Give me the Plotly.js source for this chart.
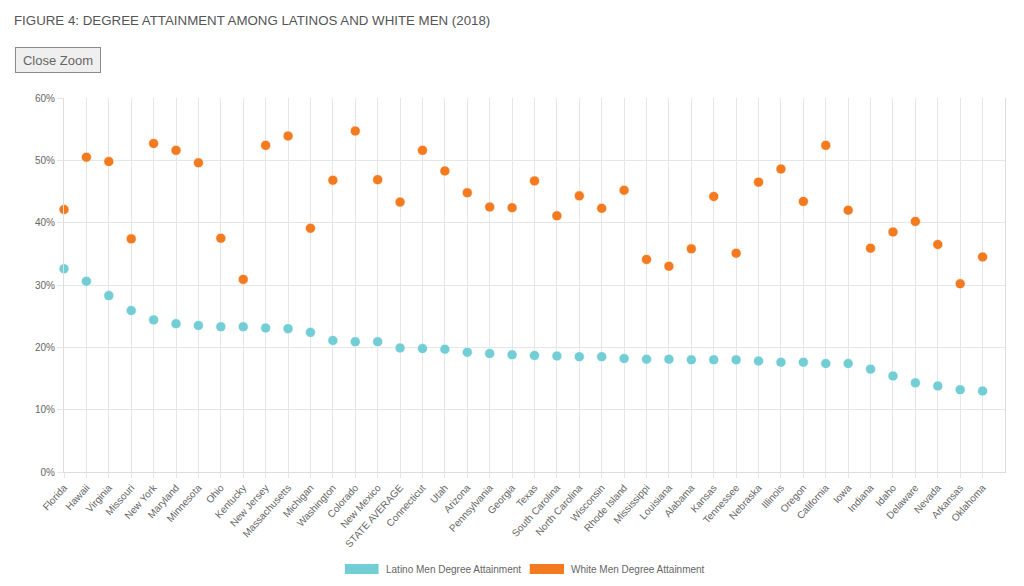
<!DOCTYPE html>
<html>
<head>
<meta charset="utf-8">
<script src="https://cdn.plot.ly/plotly-3.0.1.min.js"></script>
<style>
  html, body { margin: 0; padding: 0; background: #fff; }
  #chart { width: 1024px; height: 586px; }
</style>
</head>
<body>
<div id="chart"></div>
<script>
const states = ["Florida","Hawaii","Virginia","Missouri","New York","Maryland","Minnesota","Ohio","Kentucky","New Jersey","Massachusetts","Michigan","Washington","Colorado","New Mexico","STATE AVERAGE","Connecticut","Utah","Arizona","Pennsylvania","Georgia","Texas","South Carolina","North Carolina","Wisconsin","Rhode Island","Mississippi","Louisiana","Alabama","Kansas","Tennessee","Nebraska","Illinois","Oregon","California","Iowa","Indiana","Idaho","Delaware","Nevada","Arkansas","Oklahoma"];

const latinoMen = [32.6,30.6,28.3,25.9,24.4,23.8,23.5,23.3,23.3,23.1,23.0,22.4,21.1,20.9,20.9,19.9,19.8,19.7,19.2,19.0,18.8,18.7,18.6,18.5,18.5,18.2,18.1,18.1,18.0,18.0,18.0,17.8,17.6,17.6,17.4,17.4,16.5,15.4,14.3,13.8,13.2,13.0];

const whiteMen = [42.1,50.5,49.8,37.4,52.7,51.6,49.6,37.5,30.9,52.4,53.9,39.1,46.8,54.7,46.9,43.3,51.6,48.3,44.8,42.5,42.4,46.7,41.1,44.3,42.3,45.2,34.1,33.0,35.8,44.2,35.1,46.5,48.6,43.4,52.4,42.0,35.9,38.5,40.2,36.5,30.2,34.5];

const seriesNames = ["Latino Men Degree Attainment", "White Men Degree Attainment"];
const yTicks = [0, 10, 20, 30, 40, 50, 60];

const teal = "#72CDD4";
const orange = "#F47A20";
const gridColor = "#e6e6e6";
const textColor = "#666666";

const traces = [
  {
    type: "scatter", mode: "markers", name: seriesNames[0],
    x: states, y: latinoMen,
    marker: { color: teal, size: 10, line: { width: 1, color: "rgba(255,255,255,0.6)" } },
    cliponaxis: false, showlegend: false,
    hovertemplate: "%{x}: %{y}%<extra></extra>"
  },
  {
    type: "scatter", mode: "markers", name: seriesNames[1],
    x: states, y: whiteMen,
    marker: { color: orange, size: 10, line: { width: 1, color: "rgba(255,255,255,0.6)" } },
    cliponaxis: false, showlegend: false,
    hovertemplate: "%{x}: %{y}%<extra></extra>"
  }
];

// plot area: left 64, right 1005.5, top 98, bottom 472
const L = 64, R = 1005.5, T = 98, B = 472;
const px = v => (v - L) / (R - L);
const py = v => (B - v) / (B - T);

const layout = {
  width: 1024, height: 586,
  margin: { l: L, r: 1024 - R, t: T, b: 586 - B, pad: 0 },
  paper_bgcolor: "#fff", plot_bgcolor: "#fff",
  font: { family: "Liberation Sans, Arial, sans-serif", color: textColor, size: 10 },
  title: {
    text: "FIGURE 4: DEGREE ATTAINMENT AMONG LATINOS AND WHITE MEN (2018)",
    xref: "container", yref: "container",
    x: 14 / 1024, xanchor: "left",
    y: 1 - 20 / 586, yanchor: "middle",
    font: { family: "Liberation Sans, Arial, sans-serif", size: 13.3, color: "#555555" }
  },
  xaxis: {
    type: "category",
    range: [0, 42],
    showgrid: true, gridcolor: gridColor, gridwidth: 1,
    tickangle: -48,
    ticks: "outside", ticklen: 5, tickcolor: gridColor,
    tickfont: { size: 10, color: textColor },
    showline: true, linecolor: "#dddddd", linewidth: 1,
    zeroline: false, fixedrange: true
  },
  yaxis: {
    range: [0, 60],
    tickvals: yTicks,
    ticktext: yTicks.map(v => v + "%"),
    showgrid: true, gridcolor: gridColor, gridwidth: 1,
    ticks: "outside", ticklen: 6, tickcolor: gridColor,
    tickfont: { size: 10, color: textColor },
    showline: true, mirror: true, linecolor: "#dddddd", linewidth: 1,
    zeroline: false, fixedrange: true
  },
  shapes: [
    { type: "rect", xref: "paper", yref: "paper", x0: px(345), x1: px(378.7), y0: py(564), y1: py(574), fillcolor: teal, line: { width: 0 } },
    { type: "rect", xref: "paper", yref: "paper", x0: px(530), x1: px(564.3), y0: py(564), y1: py(574), fillcolor: orange, line: { width: 0 } }
  ],
  annotations: [
    { text: "Close Zoom", xref: "paper", yref: "paper", x: px(58), y: py(60.5), xanchor: "center", yanchor: "middle",
      showarrow: false, font: { size: 13, color: "#666666" }, bgcolor: "#efefef", bordercolor: "#8a8a8a", borderwidth: 1,
      borderpad: 3, width: 78, height: 18 },
    { text: seriesNames[0], xref: "paper", yref: "paper", x: px(384), y: py(569), xanchor: "left", yanchor: "middle",
      showarrow: false, font: { size: 10, color: textColor } },
    { text: seriesNames[1], xref: "paper", yref: "paper", x: px(569), y: py(569), xanchor: "left", yanchor: "middle",
      showarrow: false, font: { size: 10, color: textColor } }
  ],
  showlegend: false,
  hovermode: "closest"
};

Plotly.newPlot("chart", traces, layout, { displayModeBar: false, staticPlot: false });
</script>
</body>
</html>
